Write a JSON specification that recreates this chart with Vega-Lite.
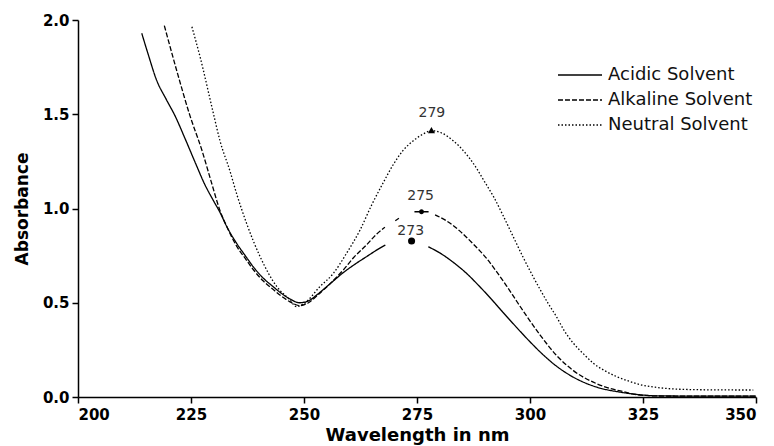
{
  "$schema": "https://vega.github.io/schema/vega-lite/v6.json",
  "width": 678,
  "height": 377,
  "autosize": {"type": "none"},
  "padding": {"left": 78, "top": 20, "right": 18, "bottom": 49},
  "background": "white",
  "config": {
    "view": {"stroke": null},
    "axis": {
      "grid": false,
      "domainColor": "#000",
      "domainWidth": 1.5,
      "tickColor": "#000",
      "tickWidth": 1.5,
      "tickSize": 6,
      "labelFont": "DejaVu Sans",
      "labelFontWeight": "bold",
      "labelFontSize": 15,
      "labelColor": "#000",
      "labelPadding": 3,
      "titleFont": "DejaVu Sans",
      "titleFontWeight": "bold",
      "titleColor": "#000"
    }
  },
  "datasets": {
    "spectra": [
      {"series": "Acidic Solvent", "wl": 214.1, "abs": 1.93},
      {"series": "Acidic Solvent", "wl": 215.5, "abs": 1.82},
      {"series": "Acidic Solvent", "wl": 217.4, "abs": 1.68},
      {"series": "Acidic Solvent", "wl": 219.5, "abs": 1.58},
      {"series": "Acidic Solvent", "wl": 221.5, "abs": 1.49},
      {"series": "Acidic Solvent", "wl": 223.7, "abs": 1.37},
      {"series": "Acidic Solvent", "wl": 226.0, "abs": 1.24},
      {"series": "Acidic Solvent", "wl": 228.0, "abs": 1.13},
      {"series": "Acidic Solvent", "wl": 230.0, "abs": 1.04},
      {"series": "Acidic Solvent", "wl": 231.4, "abs": 0.98},
      {"series": "Acidic Solvent", "wl": 233.0, "abs": 0.9},
      {"series": "Acidic Solvent", "wl": 235.1, "abs": 0.815},
      {"series": "Acidic Solvent", "wl": 237.0, "abs": 0.75},
      {"series": "Acidic Solvent", "wl": 238.8, "abs": 0.69},
      {"series": "Acidic Solvent", "wl": 241.0, "abs": 0.63},
      {"series": "Acidic Solvent", "wl": 243.2, "abs": 0.585},
      {"series": "Acidic Solvent", "wl": 245.0, "abs": 0.55},
      {"series": "Acidic Solvent", "wl": 246.9, "abs": 0.52},
      {"series": "Acidic Solvent", "wl": 249.0, "abs": 0.5},
      {"series": "Acidic Solvent", "wl": 251.0, "abs": 0.51},
      {"series": "Acidic Solvent", "wl": 253.0, "abs": 0.545},
      {"series": "Acidic Solvent", "wl": 255.5, "abs": 0.595},
      {"series": "Acidic Solvent", "wl": 258.7, "abs": 0.66},
      {"series": "Acidic Solvent", "wl": 261.0, "abs": 0.7},
      {"series": "Acidic Solvent", "wl": 263.8, "abs": 0.744},
      {"series": "Acidic Solvent", "wl": 266.8, "abs": 0.79},
      {"series": "Acidic Solvent", "wl": 268.0, "abs": 0.806},
      {"series": "Acidic Solvent", "wl": 271.0, "abs": null},
      {"series": "Acidic Solvent", "wl": 277.5, "abs": 0.797},
      {"series": "Acidic Solvent", "wl": 280.0, "abs": 0.765},
      {"series": "Acidic Solvent", "wl": 283.0, "abs": 0.715},
      {"series": "Acidic Solvent", "wl": 286.0, "abs": 0.655},
      {"series": "Acidic Solvent", "wl": 288.9, "abs": 0.585},
      {"series": "Acidic Solvent", "wl": 291.5, "abs": 0.518},
      {"series": "Acidic Solvent", "wl": 294.1, "abs": 0.447},
      {"series": "Acidic Solvent", "wl": 297.0, "abs": 0.37},
      {"series": "Acidic Solvent", "wl": 300.0, "abs": 0.293},
      {"series": "Acidic Solvent", "wl": 302.2, "abs": 0.24},
      {"series": "Acidic Solvent", "wl": 305.9, "abs": 0.163},
      {"series": "Acidic Solvent", "wl": 309.6, "abs": 0.105},
      {"series": "Acidic Solvent", "wl": 314.8, "abs": 0.052},
      {"series": "Acidic Solvent", "wl": 319.9, "abs": 0.026},
      {"series": "Acidic Solvent", "wl": 324.3, "abs": 0.012},
      {"series": "Acidic Solvent", "wl": 328.0, "abs": 0.006},
      {"series": "Acidic Solvent", "wl": 335.0, "abs": 0.005},
      {"series": "Acidic Solvent", "wl": 350.0, "abs": 0.005},

      {"series": "Alkaline Solvent", "wl": 219.1, "abs": 1.97},
      {"series": "Alkaline Solvent", "wl": 221.8, "abs": 1.735},
      {"series": "Alkaline Solvent", "wl": 224.8, "abs": 1.49},
      {"series": "Alkaline Solvent", "wl": 227.4, "abs": 1.31},
      {"series": "Alkaline Solvent", "wl": 229.5, "abs": 1.14},
      {"series": "Alkaline Solvent", "wl": 231.4, "abs": 0.99},
      {"series": "Alkaline Solvent", "wl": 233.0, "abs": 0.9},
      {"series": "Alkaline Solvent", "wl": 235.1, "abs": 0.8},
      {"series": "Alkaline Solvent", "wl": 237.0, "abs": 0.735},
      {"series": "Alkaline Solvent", "wl": 238.8, "abs": 0.675},
      {"series": "Alkaline Solvent", "wl": 241.0, "abs": 0.615},
      {"series": "Alkaline Solvent", "wl": 243.2, "abs": 0.57},
      {"series": "Alkaline Solvent", "wl": 245.0, "abs": 0.535},
      {"series": "Alkaline Solvent", "wl": 246.9, "abs": 0.505},
      {"series": "Alkaline Solvent", "wl": 249.0, "abs": 0.485},
      {"series": "Alkaline Solvent", "wl": 251.0, "abs": 0.5},
      {"series": "Alkaline Solvent", "wl": 253.0, "abs": 0.54},
      {"series": "Alkaline Solvent", "wl": 255.5, "abs": 0.595},
      {"series": "Alkaline Solvent", "wl": 258.7, "abs": 0.674},
      {"series": "Alkaline Solvent", "wl": 261.0, "abs": 0.74},
      {"series": "Alkaline Solvent", "wl": 263.8, "abs": 0.806},
      {"series": "Alkaline Solvent", "wl": 266.1, "abs": 0.865},
      {"series": "Alkaline Solvent", "wl": 267.9, "abs": 0.9},
      {"series": "Alkaline Solvent", "wl": 269.3, "abs": null},
      {"series": "Alkaline Solvent", "wl": 270.2, "abs": 0.935},
      {"series": "Alkaline Solvent", "wl": 271.0, "abs": 0.948},
      {"series": "Alkaline Solvent", "wl": 274.0, "abs": null},
      {"series": "Alkaline Solvent", "wl": 279.0, "abs": 0.966},
      {"series": "Alkaline Solvent", "wl": 281.5, "abs": 0.935},
      {"series": "Alkaline Solvent", "wl": 284.5, "abs": 0.88},
      {"series": "Alkaline Solvent", "wl": 287.5, "abs": 0.81},
      {"series": "Alkaline Solvent", "wl": 290.4, "abs": 0.735},
      {"series": "Alkaline Solvent", "wl": 292.5, "abs": 0.668},
      {"series": "Alkaline Solvent", "wl": 294.8, "abs": 0.59},
      {"series": "Alkaline Solvent", "wl": 297.0, "abs": 0.51},
      {"series": "Alkaline Solvent", "wl": 299.3, "abs": 0.428},
      {"series": "Alkaline Solvent", "wl": 302.2, "abs": 0.33},
      {"series": "Alkaline Solvent", "wl": 305.9, "abs": 0.22},
      {"series": "Alkaline Solvent", "wl": 309.6, "abs": 0.14},
      {"series": "Alkaline Solvent", "wl": 314.8, "abs": 0.07},
      {"series": "Alkaline Solvent", "wl": 320.7, "abs": 0.028},
      {"series": "Alkaline Solvent", "wl": 324.3, "abs": 0.01},
      {"series": "Alkaline Solvent", "wl": 330.0, "abs": 0.005},
      {"series": "Alkaline Solvent", "wl": 350.0, "abs": 0.005},

      {"series": "Neutral Solvent", "wl": 225.2, "abs": 1.964},
      {"series": "Neutral Solvent", "wl": 227.0, "abs": 1.805},
      {"series": "Neutral Solvent", "wl": 229.8, "abs": 1.52},
      {"series": "Neutral Solvent", "wl": 231.4, "abs": 1.36},
      {"series": "Neutral Solvent", "wl": 233.6, "abs": 1.2},
      {"series": "Neutral Solvent", "wl": 235.2, "abs": 1.07},
      {"series": "Neutral Solvent", "wl": 237.3, "abs": 0.921},
      {"series": "Neutral Solvent", "wl": 240.3, "abs": 0.744},
      {"series": "Neutral Solvent", "wl": 244.0, "abs": 0.585},
      {"series": "Neutral Solvent", "wl": 246.9, "abs": 0.515},
      {"series": "Neutral Solvent", "wl": 248.3, "abs": 0.48},
      {"series": "Neutral Solvent", "wl": 250.0, "abs": 0.495},
      {"series": "Neutral Solvent", "wl": 253.5, "abs": 0.585},
      {"series": "Neutral Solvent", "wl": 256.5, "abs": 0.656},
      {"series": "Neutral Solvent", "wl": 259.4, "abs": 0.762},
      {"series": "Neutral Solvent", "wl": 262.4, "abs": 0.886},
      {"series": "Neutral Solvent", "wl": 265.0, "abs": 1.02},
      {"series": "Neutral Solvent", "wl": 267.6, "abs": 1.14},
      {"series": "Neutral Solvent", "wl": 269.8, "abs": 1.235},
      {"series": "Neutral Solvent", "wl": 272.0, "abs": 1.31},
      {"series": "Neutral Solvent", "wl": 274.2, "abs": 1.36},
      {"series": "Neutral Solvent", "wl": 276.5, "abs": 1.397},
      {"series": "Neutral Solvent", "wl": 278.2, "abs": 1.413},
      {"series": "Neutral Solvent", "wl": 280.5, "abs": 1.4},
      {"series": "Neutral Solvent", "wl": 283.0, "abs": 1.36},
      {"series": "Neutral Solvent", "wl": 285.5, "abs": 1.3},
      {"series": "Neutral Solvent", "wl": 288.0, "abs": 1.22},
      {"series": "Neutral Solvent", "wl": 290.0, "abs": 1.14},
      {"series": "Neutral Solvent", "wl": 292.0, "abs": 1.06},
      {"series": "Neutral Solvent", "wl": 294.0, "abs": 0.965},
      {"series": "Neutral Solvent", "wl": 296.3, "abs": 0.85},
      {"series": "Neutral Solvent", "wl": 298.5, "abs": 0.74},
      {"series": "Neutral Solvent", "wl": 300.7, "abs": 0.638},
      {"series": "Neutral Solvent", "wl": 302.2, "abs": 0.572},
      {"series": "Neutral Solvent", "wl": 304.0, "abs": 0.497},
      {"series": "Neutral Solvent", "wl": 305.9, "abs": 0.424},
      {"series": "Neutral Solvent", "wl": 307.5, "abs": 0.355},
      {"series": "Neutral Solvent", "wl": 309.6, "abs": 0.285},
      {"series": "Neutral Solvent", "wl": 312.0, "abs": 0.225},
      {"series": "Neutral Solvent", "wl": 314.0, "abs": 0.179},
      {"series": "Neutral Solvent", "wl": 316.5, "abs": 0.14},
      {"series": "Neutral Solvent", "wl": 319.2, "abs": 0.108},
      {"series": "Neutral Solvent", "wl": 322.0, "abs": 0.083},
      {"series": "Neutral Solvent", "wl": 324.3, "abs": 0.066},
      {"series": "Neutral Solvent", "wl": 328.0, "abs": 0.051},
      {"series": "Neutral Solvent", "wl": 333.2, "abs": 0.041},
      {"series": "Neutral Solvent", "wl": 340.0, "abs": 0.038},
      {"series": "Neutral Solvent", "wl": 349.4, "abs": 0.037}
    ],
    "peaks": [
      {"solvent": "Acidic", "wl": 273.8, "abs": 0.828, "label": "273", "lwl": 273.6, "labs": 0.882},
      {"solvent": "Alkaline", "wl": 276.0, "abs": 0.983, "label": "275", "lwl": 275.8, "labs": 1.067},
      {"solvent": "Neutral", "wl": 278.2, "abs": 1.416, "label": "279", "lwl": 278.3, "labs": 1.507}
    ]
  },
  "encoding": {
    "x": {
      "field": "wl",
      "type": "quantitative",
      "scale": {"domain": [200, 350], "nice": false, "zero": false},
      "axis": {
        "values": [200, 225, 250, 275, 300, 325, 350],
        "title": "Wavelength in nm",
        "titleFontSize": 18,
        "titlePadding": 4,
        "labelFontWeight": "bold",
        "labelFontSize": 15,
        "labelPadding": 4
      }
    },
    "y": {
      "field": "abs",
      "type": "quantitative",
      "scale": {"domain": [0, 2], "nice": false},
      "axis": {
        "values": [0, 0.5, 1, 1.5, 2],
        "format": ".1f",
        "title": "Absorbance",
        "titleFontSize": 17,
        "titlePadding": 11,
        "labelFontWeight": "bold",
        "labelFontSize": 15
      }
    }
  },
  "layer": [
    {
      "data": {"name": "spectra"},
      "mark": {"type": "line", "color": "#000", "strokeWidth": 1.3, "clip": true, "interpolate": "monotone"},
      "encoding": {
        "strokeDash": {
          "field": "series",
          "type": "nominal",
          "scale": {
            "domain": ["Acidic Solvent", "Alkaline Solvent", "Neutral Solvent"],
            "range": [[1, 0], [5, 2], [1.5, 2]]
          },
          "legend": {
            "title": null,
            "orient": "none",
            "legendX": 492,
            "legendY": 45,
            "symbolType": "M-2.5,0H2.5",
            "symbolSize": 310,
            "symbolStrokeColor": "#000",
            "symbolStrokeWidth": 1.5,
            "labelFont": "DejaVu Sans",
            "labelFontSize": 18,
            "labelColor": "#111",
            "labelOffset": 18,
            "rowPadding": 6,
            "labelLimit": 300
          }
        }
      }
    },
    {
      "data": {"name": "peaks"},
      "mark": {"type": "point", "filled": true, "color": "#000", "opacity": 1, "size": 50},
      "encoding": {
        "shape": {
          "field": "solvent",
          "type": "nominal",
          "scale": {
            "domain": ["Acidic", "Alkaline", "Neutral"],
            "range": ["circle", "M-2,-0.2H2V0.2H-2Z M-0.7,0A0.7,0.7 0 1,1 0.7,0A0.7,0.7 0 1,1 -0.7,0Z", "triangle-up"]
          },
          "legend": null
        }
      }
    },
    {
      "data": {"name": "peaks"},
      "mark": {"type": "text", "font": "DejaVu Sans", "fontSize": 14, "color": "#333", "baseline": "middle", "align": "center"},
      "encoding": {
        "x": {"field": "lwl", "type": "quantitative"},
        "y": {"field": "labs", "type": "quantitative"},
        "text": {"field": "label"}
      }
    }
  ]
}
